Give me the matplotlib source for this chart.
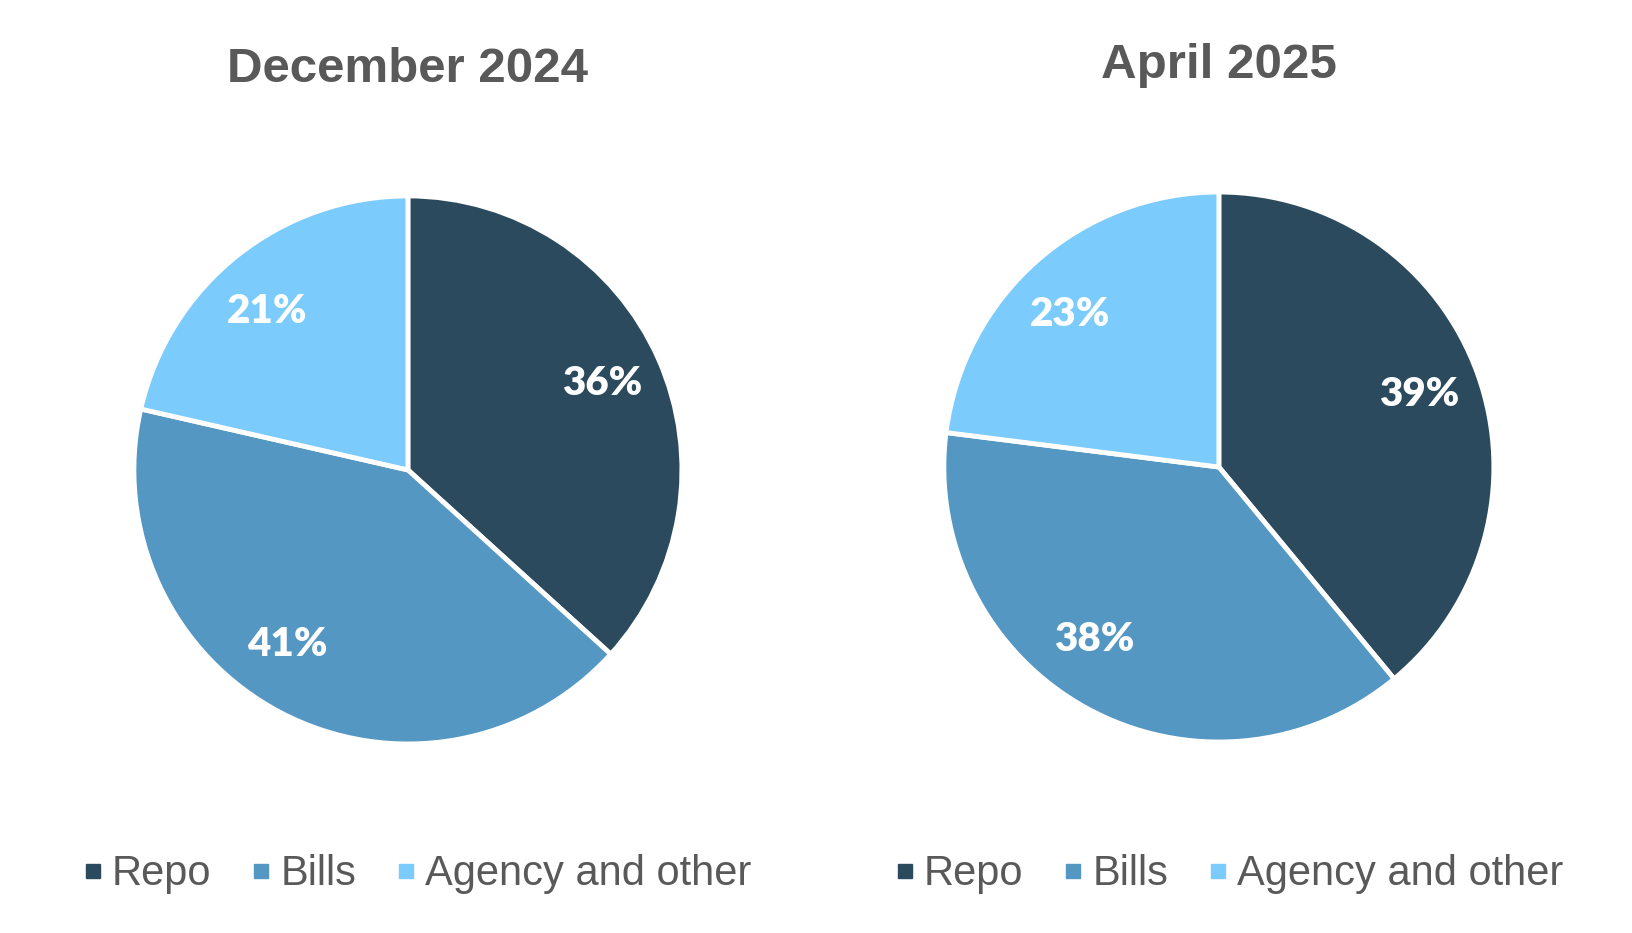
import numpy as np
import matplotlib.pyplot as plt
from matplotlib.lines import Line2D

# ---------------- Data ----------------
categories = ["Repo", "Bills", "Agency and other"]
titles = ["December 2024", "April 2025"]
dec_2024 = [36, 41, 21]
apr_2025 = [39, 38, 23]

colors = ["#2C4A5E", "#5497C3", "#7BCBFC"]
text_grey = "#595959"

# small angular nudges (deg) so labels sit where the original placed them
label_nudge = [0.0, -7.0, 3.0]

# ---------------- Figure ----------------
fig = plt.figure(figsize=(16.33, 9.33), dpi=100)

axes_rects = [
    [0.0820, 0.2026, 0.3356, 0.5874],
    [0.5780, 0.2047, 0.3368, 0.5895],
]
title_pos = [(408 / 1633, 1 - 70 / 933), (1219 / 1633, 1 - 66 / 933)]
legend_pos = [(417 / 1633, 0.063), (1229 / 1633, 0.063)]

for rect, vals, title, tpos, lpos in zip(
    axes_rects, [dec_2024, apr_2025], titles, title_pos, legend_pos
):
    ax = fig.add_axes(rect)
    wedges, _ = ax.pie(
        vals,
        colors=colors,
        startangle=90,
        counterclock=False,
        radius=1,
        wedgeprops=dict(edgecolor="white", linewidth=3.5),
    )
    ax.set_xlim(-1, 1)
    ax.set_ylim(-1, 1)
    ax.set_aspect("equal")
    ax.axis("off")

    for w, v, nd in zip(wedges, vals, label_nudge):
        ang = np.deg2rad((w.theta1 + w.theta2) / 2 + nd)
        ax.text(
            0.775 * np.cos(ang), 0.775 * np.sin(ang), f"{v}%",
            ha="center", va="center", color="white",
            fontsize=29, fontweight="heavy", family="Lato",
        )

    fig.text(tpos[0], tpos[1], title, ha="center", va="center",
             fontsize=35.5, fontweight="bold", color=text_grey,
             family="Liberation Sans")

    handles = [
        Line2D([], [], marker="s", linestyle="none", markersize=10,
               markerfacecolor=c, markeredgecolor=c)
        for c in colors
    ]
    leg = fig.legend(
        handles, categories, loc="center", bbox_to_anchor=lpos, ncol=3,
        frameon=False, handlelength=0.5, handletextpad=0.2,
        columnspacing=0.95, prop=dict(family="Liberation Sans", size=30),
    )
    for t in leg.get_texts():
        t.set_color(text_grey)

fig.savefig("out.png", dpi=100, facecolor="white")
